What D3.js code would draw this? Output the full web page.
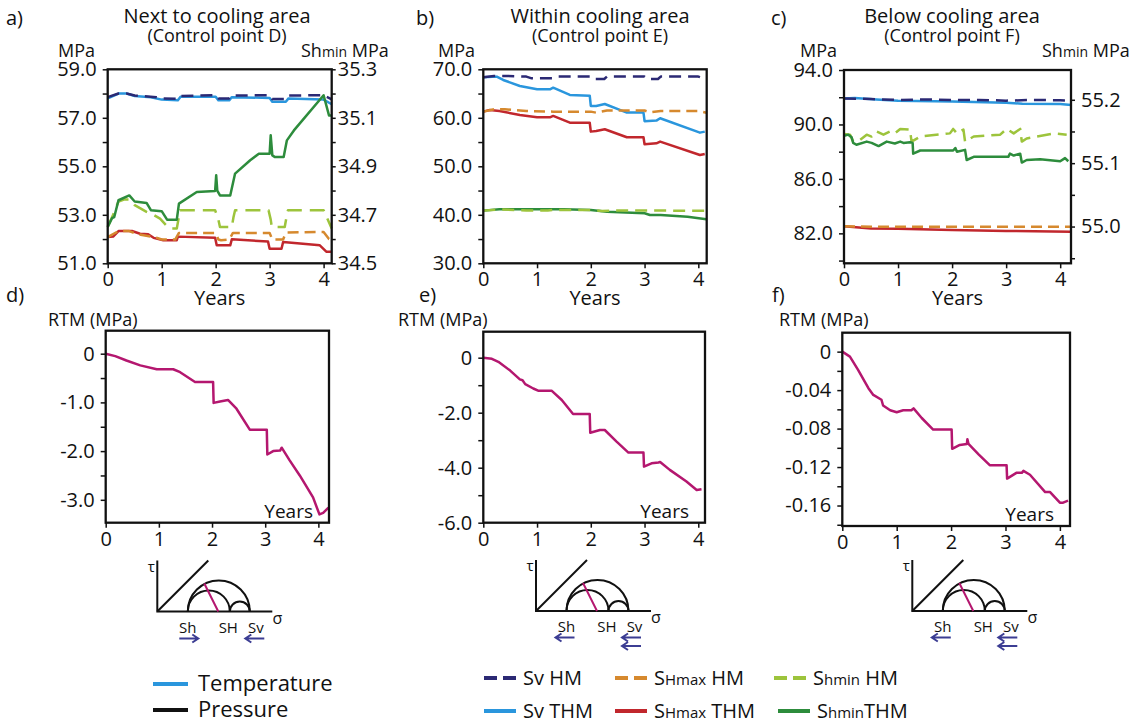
<!DOCTYPE html>
<html>
<head>
<meta charset="utf-8">
<script src="https://cdn.jsdelivr.net/npm/d3@7"></script>
<style>
body { margin: 0; background: #fff; }
svg text { font-family: "Open Sans", "Noto Sans", sans-serif; fill: #111; }
.axis path.domain { display: none; }
.axis line { stroke: #111; stroke-width: 1.5; }
.axis text { font-family: "Open Sans", "Noto Sans", sans-serif; fill: #111; }
</style>
</head>
<body>
<div id="container"></div>
<script>
/* ---- data: [years, value] ---- */
var yearTicks = [0, 1, 2, 3, 4];

// a) next to cooling area (control point D)
var aSvHM = [[0,57.85],[0.2,58.0],[0.35,58.0],[0.5,57.92],[0.9,57.85],[1.0,57.8],[1.3,57.78],[1.35,57.9],[2.0,57.93],[2.05,57.8],[2.25,57.8],[2.3,57.92],[3.0,57.93],[3.05,57.78],[3.3,57.78],[3.35,57.92],[4.0,57.93],[4.15,57.76]];
var aSvTHM = [[0,57.8],[0.2,58.0],[0.35,58.0],[0.5,57.9],[0.8,57.85],[1.0,57.75],[1.3,57.72],[1.35,57.87],[2.0,57.87],[2.05,57.72],[2.25,57.72],[2.3,57.85],[3.0,57.82],[3.05,57.66],[3.3,57.66],[3.35,57.8],[4.0,57.75],[4.15,57.56]];
var aSHmaxHM = [[0,52.08],[0.2,52.33],[0.4,52.33],[0.55,52.2],[0.9,52.06],[1.0,51.98],[1.25,51.98],[1.32,52.25],[2.0,52.25],[2.05,51.98],[2.1,51.95],[2.25,51.98],[2.32,52.25],[3.0,52.25],[3.05,51.98],[3.25,51.98],[3.3,52.27],[4.0,52.29],[4.1,52.0],[4.15,51.98]];
var aSHmaxTHM = [[0,52.08],[0.1,52.1],[0.2,52.33],[0.45,52.33],[0.6,52.22],[0.75,52.2],[0.85,52.05],[1.03,51.95],[1.28,51.95],[1.3,52.1],[1.99,52.05],[2.02,51.74],[2.27,51.74],[2.3,51.99],[2.97,51.9],[3.0,51.6],[3.22,51.6],[3.25,51.88],[3.93,51.74],[4.05,51.48],[4.15,51.48]];
var aShminHM = [[0,34.65],[0.1,34.7],[0.2,34.755],[0.3,34.763],[0.41,34.763],[0.5,34.74],[0.72,34.712],[0.85,34.7],[0.97,34.684],[1.09,34.655],[1.15,34.643],[1.28,34.643],[1.34,34.719],[1.99,34.719],[2.05,34.68],[2.08,34.65],[2.3,34.65],[2.33,34.69],[2.36,34.719],[2.98,34.719],[3.02,34.68],[3.04,34.65],[3.28,34.65],[3.32,34.7],[3.34,34.719],[4.0,34.719],[4.15,34.643]];
var aShminTHM = [[0,34.65],[0.08,34.686],[0.12,34.69],[0.2,34.76],[0.4,34.78],[0.5,34.755],[0.72,34.749],[0.8,34.719],[1.0,34.715],[1.1,34.68],[1.28,34.68],[1.32,34.746],[1.65,34.794],[1.99,34.798],[2.01,34.863],[2.03,34.8],[2.08,34.78],[2.27,34.78],[2.36,34.87],[2.64,34.925],[2.8,34.952],[3.0,34.952],[3.02,35.028],[3.05,34.945],[3.1,34.938],[3.26,34.938],[3.32,35.007],[3.45,35.048],[4.0,35.193],[4.1,35.11],[4.15,35.11]];

// b) within cooling area (control point E)
var bSvHM = [[0,68.35],[0.2,68.63],[0.4,68.63],[0.8,68.49],[0.9,68.14],[1.3,68.14],[1.4,68.49],[2.0,68.49],[2.05,68.0],[2.25,68.0],[2.3,68.49],[3.0,68.49],[3.05,68.0],[3.25,68.0],[3.3,68.49],[4.0,68.49],[4.15,67.94]];
var bSvTHM = [[0,68.35],[0.25,68.49],[0.37,67.8],[0.68,66.56],[1.0,65.88],[1.24,65.88],[1.3,66.22],[1.61,64.71],[1.98,64.57],[2.0,62.44],[2.1,62.44],[2.26,62.85],[2.54,61.62],[2.67,61.07],[2.98,61.07],[3.0,59.3],[3.22,59.42],[3.29,59.9],[4.03,56.94],[4.12,57.15]];
var bSHmaxHM = [[0,61.27],[0.2,61.75],[0.4,61.75],[0.8,61.41],[1.3,61.27],[2.0,61.27],[2.1,61.06],[2.3,61.5],[3.0,61.5],[3.1,61.13],[3.3,61.41],[4.0,61.41],[4.15,61.06]];
var bSHmaxTHM = [[0,61.27],[0.12,61.62],[0.3,61.41],[0.68,60.58],[1.0,60.1],[1.24,60.1],[1.3,60.38],[1.61,59.0],[1.98,59.0],[2.0,57.15],[2.1,57.29],[2.26,57.63],[2.67,55.98],[2.98,55.98],[3.0,54.54],[3.22,54.74],[3.29,55.09],[4.03,52.34],[4.12,52.54]];
var bShminHM = [[0,40.86],[0.3,41.13],[0.8,40.9],[1.2,40.9],[1.3,41.0],[2.0,41.0],[2.2,40.8],[2.5,40.9],[3.0,40.9],[3.5,40.86],[4.15,40.86]];
var bShminTHM = [[0,40.86],[0.3,41.13],[1.5,41.13],[2.0,41.0],[2.3,40.65],[3.0,40.31],[3.1,39.97],[3.3,39.97],[3.8,39.62],[4.15,39.07]];

// c) below cooling area (control point F)
var cSvHM = [[0,91.9],[0.5,91.87],[1.0,91.8],[1.5,91.84],[2.0,91.8],[2.5,91.8],[3.0,91.75],[3.5,91.8],[4.0,91.78],[4.2,91.75]];
var cSvTHM = [[0,91.9],[0.2,91.95],[0.6,91.84],[1.0,91.75],[2.0,91.68],[3.0,91.6],[3.3,91.52],[4.0,91.5],[4.2,91.43]];
var cSHmaxHM = [[0,82.53],[0.5,82.48],[4.2,82.48]];
var cSHmaxTHM = [[0,82.53],[0.5,82.36],[1.0,82.33],[2.0,82.24],[3.0,82.18],[4.2,82.11]];
var cShminHM = [[0,55.146],[0.11,55.145],[0.17,55.134],[0.3,55.137],[0.42,55.145],[0.51,55.142],[0.6,55.15],[0.73,55.145],[0.85,55.15],[0.94,55.147],[1.04,55.154],[1.22,55.153],[1.25,55.134],[1.41,55.142],[1.96,55.147],[2.02,55.154],[2.09,55.147],[2.21,55.153],[2.24,55.134],[2.4,55.142],[2.89,55.145],[3.01,55.154],[3.14,55.147],[3.26,55.154],[3.29,55.134],[3.38,55.139],[3.88,55.147],[4.12,55.145]];
var cShminTHM = [[0,55.143],[0.08,55.145],[0.14,55.141],[0.17,55.132],[0.23,55.129],[0.42,55.134],[0.51,55.132],[0.64,55.127],[0.79,55.134],[0.94,55.131],[1.04,55.134],[1.1,55.132],[1.22,55.133],[1.27,55.132],[1.28,55.115],[1.41,55.12],[2.02,55.12],[2.06,55.124],[2.09,55.118],[2.24,55.121],[2.27,55.105],[2.4,55.11],[3.04,55.11],[3.07,55.115],[3.14,55.112],[3.26,55.115],[3.29,55.101],[3.38,55.105],[3.63,55.106],[4.0,55.103],[4.09,55.108],[4.15,55.103]];

// d) e) f) RTM (MPa)
var dRTM = [[0,0],[0.18,-0.05],[0.39,-0.14],[0.65,-0.24],[0.96,-0.32],[1.27,-0.32],[1.4,-0.38],[1.68,-0.58],[2.02,-0.58],[2.03,-1.01],[2.15,-0.98],[2.3,-0.95],[2.46,-1.13],[2.71,-1.56],[3.03,-1.56],[3.04,-2.07],[3.15,-2.0],[3.28,-1.99],[3.31,-1.93],[3.46,-2.19],[3.65,-2.5],[3.9,-2.95],[4.02,-3.3],[4.09,-3.27],[4.19,-3.16]];
var eRTM = [[0,0],[0.16,-0.04],[0.28,-0.15],[0.5,-0.47],[0.68,-0.79],[0.73,-0.82],[0.78,-0.96],[0.93,-1.12],[1.02,-1.2],[1.27,-1.2],[1.46,-1.54],[1.67,-2.05],[1.98,-2.05],[1.99,-2.73],[2.17,-2.63],[2.26,-2.63],[2.48,-3.05],[2.7,-3.45],[2.98,-3.45],[2.99,-3.96],[3.13,-3.84],[3.26,-3.81],[3.29,-3.79],[3.47,-4.08],[3.78,-4.5],[3.97,-4.81],[4.06,-4.78]];
var fRTM = [[0,0],[0.14,-0.0052],[0.29,-0.019],[0.48,-0.038],[0.57,-0.045],[0.72,-0.05],[0.75,-0.056],[0.88,-0.061],[1.0,-0.063],[1.12,-0.061],[1.27,-0.061],[1.31,-0.059],[1.46,-0.069],[1.67,-0.081],[2.01,-0.081],[2.02,-0.101],[2.16,-0.097],[2.29,-0.096],[2.3,-0.091],[2.32,-0.096],[2.51,-0.107],[2.71,-0.118],[3.02,-0.118],[3.03,-0.132],[3.2,-0.126],[3.3,-0.126],[3.33,-0.124],[3.45,-0.128],[3.73,-0.146],[3.82,-0.146],[4.0,-0.157],[4.06,-0.157],[4.15,-0.155]];

/* tick values (all ticks) and the labelled ones */
var aTicks = [51,52,53,54,55,56,57,58,59], aLabels = [51,53,55,57,59];
var aTicksR = [34.5,34.6,34.7,34.8,34.9,35.0,35.1,35.2,35.3], aLabelsR = [34.5,34.7,34.9,35.1,35.3];
var bTicks = [30,35,40,45,50,55,60,65,70], bLabels = [30,40,50,60,70];
var cTicks = [80,82,84,86,88,90,92,94], cLabels = [82,86,90,94];
var cTicksR = [54.95,55.0,55.05,55.1,55.15,55.2], cLabelsR = [55.0,55.1,55.2];
var dTicks = [0,-0.5,-1,-1.5,-2,-2.5,-3], dLabels = [0,-1,-2,-3];
var eTicks = [0,-1,-2,-3,-4,-5,-6], eLabels = [0,-2,-4,-6];
var fTicks = [0,-0.02,-0.04,-0.06,-0.08,-0.1,-0.12,-0.14,-0.16,-0.18], fLabels = [0,-0.04,-0.08,-0.12,-0.16];

/* colours */
var colSvHM = '#2b2974', colSvTHM = '#2a96dd',
	colSHmaxHM = '#d6892e', colSHmaxTHM = '#c1272d',
	colShminHM = '#9dc43c', colShminTHM = '#2d8c3c',
	colRTM = '#b4176f', colArrow = '#3c3d93';

var svg = d3.select('#container').append('svg')
	.attr('width', 1138)
	.attr('height', 723);

function fmt1(d) { return d === 0 ? '0' : d3.format('.1f')(d).replace('\u2212', '-'); }
function fmt2(d) { return d === 0 ? '0' : d3.format('.2f')(d).replace('\u2212', '-'); }

/* one framed plot with axes and lines */
function drawPanel(p) {
	var g = svg.append('g');
	var x = d3.scaleLinear().domain([0, p.xMax]).range([p.left, p.right]),
		y = d3.scaleLinear().domain(p.yDom).range([p.bottom, p.top]),
		yR = p.rDom ? d3.scaleLinear().domain(p.rDom).range([p.bottom, p.top]) : null;

	g.append('g').classed('axis', true)
		.attr('transform', 'translate(0,' + p.bottom + ')')
		.style('font-size', '20px')
		.call(d3.axisBottom(x).tickValues(yearTicks).tickFormat(d3.format('d')).tickSize(5).tickPadding(4));

	g.append('g').classed('axis', true)
		.attr('transform', 'translate(' + p.left + ',0)')
		.style('font-size', '20px')
		.call(d3.axisLeft(y).tickValues(p.yTicks)
			.tickFormat(d => p.yLabels.indexOf(d) >= 0 ? p.fmt(d) : '')
			.tickSize(5).tickPadding(6));

	if (yR) {
		g.append('g').classed('axis', true)
			.attr('transform', 'translate(' + p.right + ',0)')
			.style('font-size', '20px')
			.call(d3.axisRight(yR).tickValues(p.rTicks)
				.tickFormat(d => p.rLabels.indexOf(d) >= 0 ? d3.format('.1f')(d) : '')
				.tickSize(4).tickPadding(p.rPad));
	}

	var line = d3.line().x(d => x(d[0]));
	p.series.forEach(function(s) {
		var sc = s.right ? yR : y;
		g.append('path')
			.datum(s.data)
			.attr('fill', 'none')
			.attr('stroke', s.color)
			.attr('stroke-width', 2.5)
			.attr('stroke-linejoin', 'round')
			.attr('stroke-dasharray', s.dash || null)
			.attr('d', line.y(d => sc(d[1])));
	});

	// frame
	g.append('rect')
		.attr('x', p.left).attr('y', p.top)
		.attr('width', p.right - p.left).attr('height', p.bottom - p.top)
		.attr('fill', 'none').attr('stroke', '#111').attr('stroke-width', 2.3);
}

var topPanels = [
	{left: 107.7, right: 331.7, top: 69.3, bottom: 263.3, xMax: 4.15,
	 yDom: [51, 59], yTicks: aTicks, yLabels: aLabels, fmt: fmt1,
	 rDom: [34.5, 35.3], rTicks: aTicksR, rLabels: aLabelsR, rPad: 2,
	 series: [
		{data: aSvTHM, color: colSvTHM},
		{data: aSvHM, color: colSvHM, dash: '12,7'},
		{data: aSHmaxTHM, color: colSHmaxTHM},
		{data: aSHmaxHM, color: colSHmaxHM, dash: '11,6'},
		{data: aShminHM, color: colShminHM, dash: '15,8', right: true},
		{data: aShminTHM, color: colShminTHM, right: true}]},
	{left: 483.3, right: 706.7, top: 69.3, bottom: 263.3, xMax: 4.156,
	 yDom: [30, 70], yTicks: bTicks, yLabels: bLabels, fmt: fmt1,
	 series: [
		{data: bSvTHM, color: colSvTHM},
		{data: bSvHM, color: colSvHM, dash: '12,7'},
		{data: bSHmaxTHM, color: colSHmaxTHM},
		{data: bSHmaxHM, color: colSHmaxHM, dash: '11,6'},
		{data: bShminTHM, color: colShminTHM},
		{data: bShminHM, color: colShminHM, dash: '12,7'}]},
	{left: 844, right: 1071, top: 70, bottom: 263.3, xMax: 4.2,
	 yDom: [79.8, 94], yTicks: cTicks, yLabels: cLabels, fmt: fmt1,
	 rDom: [54.942, 55.247], rTicks: cTicksR, rLabels: cLabelsR, rPad: 6,
	 series: [
		{data: cSvTHM, color: colSvTHM},
		{data: cSvHM, color: colSvHM, dash: '12,7'},
		{data: cSHmaxTHM, color: colSHmaxTHM},
		{data: cSHmaxHM, color: colSHmaxHM, dash: '11,6'},
		{data: cShminHM, color: colShminHM, dash: '14,7', right: true},
		{data: cShminTHM, color: colShminTHM, right: true}]}
];

var lowPanels = [
	{left: 105.7, right: 329, top: 330.7, bottom: 522.7, xMax: 4.2,
	 yDom: [-3.47, 0.472], yTicks: dTicks, yLabels: dLabels, fmt: fmt1,
	 series: [{data: dRTM, color: colRTM}]},
	{left: 483.3, right: 705, top: 331.7, bottom: 522.7, xMax: 4.125,
	 yDom: [-6, 0.945], yTicks: eTicks, yLabels: eLabels, fmt: fmt1,
	 series: [{data: eRTM, color: colRTM}]},
	{left: 842.3, right: 1070, top: 332.7, bottom: 526, xMax: 4.186,
	 yDom: [-0.1813, 0.0197], yTicks: fTicks, yLabels: fLabels, fmt: fmt2,
	 series: [{data: fRTM, color: colRTM}]}
];

topPanels.forEach(drawPanel);
lowPanels.forEach(drawPanel);

/* texts */
function txt(x, y, s, size, anchor) {
	return svg.append('text').attr('x', x).attr('y', y)
		.attr('font-size', size).attr('text-anchor', anchor || 'start').text(s);
}
// Shmin axis label: "Sh" + small "min" + " MPa"
function shminLabel(x, y) {
	var t = svg.append('text').attr('x', x).attr('y', y).attr('font-size', 18);
	t.append('tspan').text('Sh');
	t.append('tspan').attr('font-size', 14).text('min');
	t.append('tspan').text(' MPa');
}

var panelLetters = [['a)', 6, 25], ['b)', 416, 25], ['c)', 771, 25], ['d)', 6, 302], ['e)', 419, 302], ['f)', 772, 302]];
panelLetters.forEach(l => txt(l[1], l[2], l[0], 20));

var titles = [['Next to cooling area', '(Control point D)', 217],
	['Within cooling area', '(Control point E)', 600],
	['Below cooling area', '(Control point F)', 952]];
titles.forEach(t => { txt(t[2], 23, t[0], 20, 'middle'); txt(t[2], 42, t[1], 18, 'middle'); });

txt(95, 57, 'MPa', 18, 'end');
txt(475, 57, 'MPa', 18, 'end');
txt(837, 57, 'MPa', 18, 'end');
shminLabel(301, 57);
shminLabel(1042, 57);

topPanels.forEach(p => txt((p.left + p.right) / 2, 305, 'Years', 20, 'middle'));
lowPanels.forEach(p => txt(p.right - 16, p.bottom - 5, 'Years', 19, 'end'));
txt(48, 326, 'RTM (MPa)', 18);
txt(398, 326, 'RTM (MPa)', 18);
txt(779, 326, 'RTM (MPa)', 18);

/* Mohr circle sketches */
var mohrs = [
	{ox: 157.3, oy: 611.5, shDir: 1, svCount: 1},
	{ox: 536, oy: 611, shDir: -1, svCount: 2},
	{ox: 912.3, oy: 611, shDir: -1, svCount: 2}
];

function arrow(g, x1, x2, y) {
	var dir = x2 > x1 ? 1 : -1;
	g.append('path')
		.attr('d', 'M' + x1 + ',' + y + 'H' + x2 + 'M' + (x2 - dir * 6) + ',' + (y - 4) + 'L' + x2 + ',' + y + 'L' + (x2 - dir * 6) + ',' + (y + 4))
		.attr('fill', 'none').attr('stroke', colArrow).attr('stroke-width', 2);
}

function semi(a, b) {
	var r = (b - a) / 2;
	return 'M' + a + ',0A' + r + ',' + r + ' 0 0 1 ' + b + ',0';
}

mohrs.forEach(function(m) {
	var g = svg.append('g').attr('transform', 'translate(' + m.ox + ',' + m.oy + ')');
	var paths = ['M0,-51V0H115', 'M0,0L51,-51', semi(30.5, 92.5), semi(30.5, 72.5), semi(72.5, 92.5)];
	paths.forEach(d => g.append('path').attr('d', d)
		.attr('fill', 'none').attr('stroke', '#111').attr('stroke-width', 2));
	g.append('path').attr('d', 'M47,-28L61,0')
		.attr('stroke', colRTM).attr('stroke-width', 2).attr('fill', 'none');
	g.append('text').attr('x', -6).attr('y', -40).attr('font-size', 15).attr('text-anchor', 'middle').text('\u03c4');
	g.append('text').attr('x', 120).attr('y', 12).attr('font-size', 16).attr('text-anchor', 'middle').text('\u03c3');
	[['Sh', 30.5], ['SH', 71], ['Sv', 98.5]].forEach(l => {
		g.append('text').attr('x', l[1]).attr('y', 21).attr('font-size', 15).attr('text-anchor', 'middle').text(l[0]);
	});
	if (m.shDir > 0) arrow(g, 22, 41, 27); else arrow(g, 38.5, 19.5, 26.5);
	if (m.svCount === 1) arrow(g, 107, 88, 27);
	else { arrow(g, 105, 86, 26.5); arrow(g, 105, 86, 35); }
});

/* legends */
var legendLeft = [
	{label: 'Temperature', color: colSvTHM, y: 684},
	{label: 'Pressure', color: '#111', y: 710}
];
legendLeft.forEach(function(l) {
	svg.append('line').attr('x1', 153).attr('x2', 188).attr('y1', l.y).attr('y2', l.y)
		.attr('stroke', l.color).attr('stroke-width', 4);
	txt(198, l.y + 7, l.label, 22);
});

var legendRight = [
	{parts: [['Sv HM', 0]], color: colSvHM, dash: '13,6', x: 484, y: 678},
	{parts: [['S', 0], ['Hmax', 1], [' HM', 0]], color: colSHmaxHM, dash: '13,6', x: 615, y: 678},
	{parts: [['S', 0], ['hmin', 1], [' HM', 0]], color: colShminHM, dash: '13,6', x: 774, y: 678},
	{parts: [['Sv THM', 0]], color: colSvTHM, x: 484, y: 711},
	{parts: [['S', 0], ['Hmax', 1], [' THM', 0]], color: colSHmaxTHM, x: 615, y: 711},
	{parts: [['S', 0], ['hmin', 1], ['THM', 0]], color: colShminTHM, x: 778, y: 711}
];
legendRight.forEach(function(l) {
	svg.append('line').attr('x1', l.x).attr('x2', l.x + 32).attr('y1', l.y).attr('y2', l.y)
		.attr('stroke', l.color).attr('stroke-width', 4)
		.attr('stroke-dasharray', l.dash || null);
	var t = svg.append('text').attr('x', l.x + 39).attr('y', l.y + 7).attr('font-size', 20);
	l.parts.forEach(pt => t.append('tspan').attr('font-size', pt[1] ? 15 : 20).text(pt[0]));
});
</script>
</body>
</html>
